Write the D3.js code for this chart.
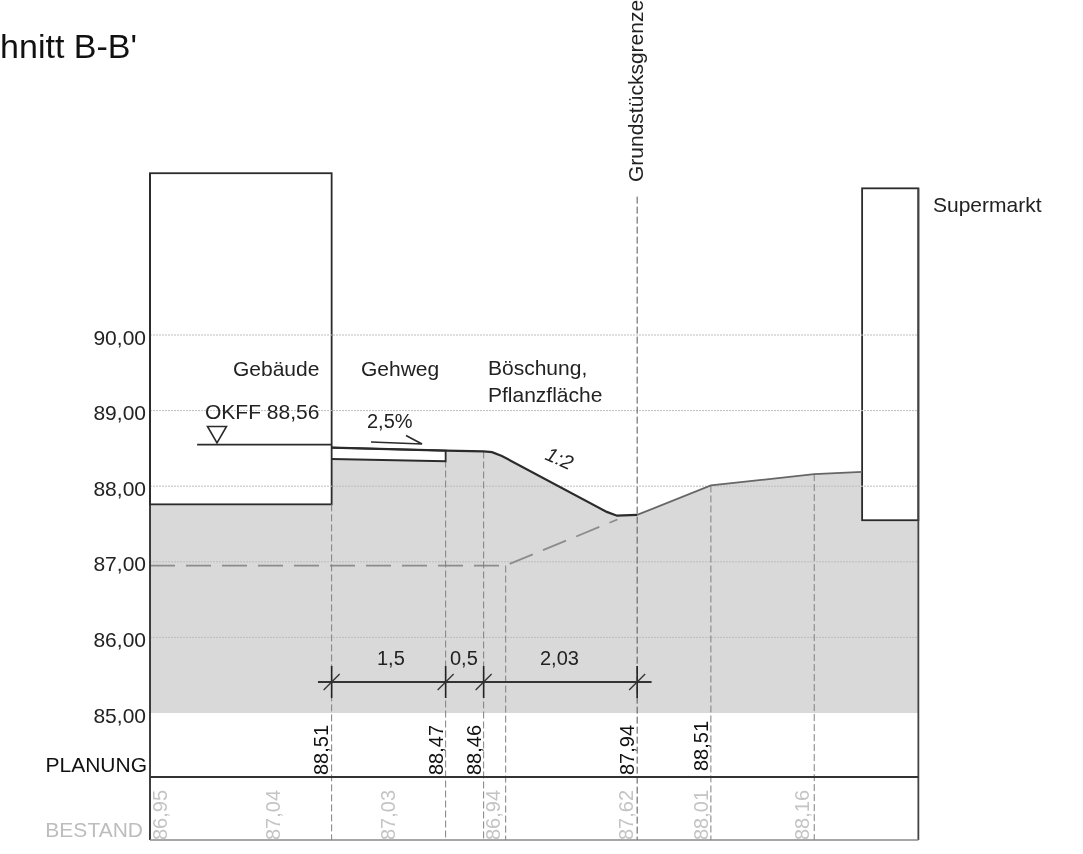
<!DOCTYPE html>
<html><head><meta charset="utf-8">
<script src="https://d3js.org/d3.v7.min.js"></script>
<style>html,body{margin:0;background:#fff;overflow:hidden}svg{display:block;filter:blur(0.45px)}text{font-family:"Liberation Sans",Arial,sans-serif}</style>
</head><body><div id="c"></div>
<script>
const W = 1083, H = 854;
// elevation axis
const yTicks = [85, 86, 87, 88, 89, 90];
// stations (metres from the left edge of the section)
const stations = [2.39, 3.89, 4.39, 4.68, 6.41, 7.38, 8.74];
const stationTops = [87.76, 88.34, 88.46, 86.95, 91.83, 88.01, 88.16];
// planned surface
const planX = [2.39, 3.89, 4.39, 4.5, 4.63, 6.01, 6.145, 6.41, 7.38, 8.74, 9.37];
const planY = [88.51, 88.47, 88.46, 88.45, 88.4, 87.66, 87.61, 87.62, 88.01, 88.16, 88.19];
// existing surface
const existX = [0, 4.68, 6.15];
const existY = [86.95, 86.95, 87.56];
// sidewalk
const walkX = [2.39, 3.89, 3.89, 2.39];
const walkY = [88.51, 88.47, 88.33, 88.36];
// buildings: x0, x1, bottom, top
const leftBuilding = [0, 2.39, 87.76, 92.14];
const rightBuilding = [9.37, 10.11, 87.55, 91.94];
// floor level
const floorX = [0.62, 2.39];
const floorY = 88.55;
// dimension chain
const dimX = [2.39, 3.89, 4.39, 6.41];
const dimExtent = [2.21, 6.6];
const dimY = 85.41;
const dimLabels = ["1,5", "0,5", "2,03"];
// bottom table
const planLabels = ["88,51", "88,47", "88,46", "87,94", "88,51"];
const planLabelX = [2.342, 3.855, 4.355, 6.368, 7.342];
const existLabels = ["86,95", "87,04", "87,03", "86,94", "87,62", "88,01", "88,16"];
const existLabelX = [0.22, 1.71, 3.22, 4.6, 6.35, 7.34, 8.67];

const x = d3.scaleLinear().domain([0, 10]).range([150, 910]);
const y = d3.scaleLinear().domain([85, 90]).range([713, 335]);
const svg = d3.select("#c").append("svg").attr("width", W).attr("height", H);
const line = d3.line().x(d => x(d[0])).y(d => y(d[1]));
const zip = (a, b) => a.map((v, i) => [v, b[i]]);
const FONT = 21, DARK = "#2b2b2b";

// ground fill
const ground = [[0, leftBuilding[2]], [2.39, leftBuilding[2]], ...zip(planX, planY), [9.37, rightBuilding[2]], [10.11, rightBuilding[2]], [10.11, 85], [0, 85]];
svg.append("path").attr("d", line(ground) + "Z").attr("fill", "#d9d9d9");

// sidewalk
svg.append("path").attr("d", line(zip(walkX, walkY)) + "Z").attr("fill", "#fff");

// buildings
for (const b of [leftBuilding, rightBuilding]) {
  svg.append("rect").attr("x", x(b[0])).attr("y", y(b[3]))
    .attr("width", x(b[1]) - x(b[0])).attr("height", y(b[2]) - y(b[3]))
    .attr("fill", "#fff").attr("stroke", DARK).attr("stroke-width", 1.8);
}

// gridlines + axis labels
const axis = d3.axisLeft(y).tickValues(yTicks).tickSize(0).tickPadding(4)
  .tickFormat(d => d3.format(".2f")(d).replace(".", ","));
const ax = svg.append("g").attr("transform", `translate(${x(0)},0)`).call(axis);
ax.select(".domain").remove();
ax.selectAll("text").attr("font-size", FONT).attr("dy", "0.43em").attr("fill", "#222").style("font-family", '"Liberation Sans",Arial,sans-serif');
svg.append("g").selectAll("line").data(yTicks.slice(1)).join("line")
  .attr("x1", x(0)).attr("x2", x(10.11)).attr("y1", d => y(d)).attr("y2", d => y(d))
  .attr("stroke", "#bdbdbd").attr("stroke-width", 1).attr("stroke-dasharray", "2 1");

// existing dashed surface
svg.append("path").attr("d", line(zip(existX, existY))).attr("fill", "none")
  .attr("stroke", "#8c8c8c").attr("stroke-width", 1.8).attr("stroke-dasharray", "25 11");

// station verticals
stations.forEach((s, i) => {
  svg.append("line").attr("x1", x(s)).attr("x2", x(s)).attr("y1", y(stationTops[i])).attr("y2", 840)
    .attr("stroke", s === 6.41 ? "#555" : "#808080").attr("stroke-width", 1).attr("stroke-dasharray", "7 3");
});

// frame of the table
const frame = svg.append("g").attr("fill", "none");
frame.append("line").attr("x1", x(0)).attr("x2", x(0)).attr("y1", y(92.14)).attr("y2", 840).attr("stroke", DARK).attr("stroke-width", 1.8);
frame.append("line").attr("x1", x(10.11)).attr("x2", x(10.11)).attr("y1", y(91.94)).attr("y2", 840).attr("stroke", "#444").attr("stroke-width", 1.8);
frame.append("line").attr("x1", x(0)).attr("x2", x(10.11)).attr("y1", 777).attr("y2", 777).attr("stroke", "#333").attr("stroke-width", 2.2);
frame.append("line").attr("x1", x(0)).attr("x2", x(10.11)).attr("y1", 840).attr("y2", 840).attr("stroke", "#8a8a8a").attr("stroke-width", 1.5);

// planned surface
svg.append("path").attr("d", line(zip(planX.slice(0, 8), planY.slice(0, 8)))).attr("fill", "none").attr("stroke", DARK).attr("stroke-width", 2.2);
svg.append("path").attr("d", line(zip(planX.slice(7), planY.slice(7)))).attr("fill", "none").attr("stroke", "#666").attr("stroke-width", 1.8);

// sidewalk outline
svg.append("path").attr("d", line(zip(walkX, walkY))).attr("fill", "none").attr("stroke", DARK).attr("stroke-width", 1.8);

// floor level & marker
svg.append("path").attr("d", line(zip(floorX, [floorY, floorY]))).attr("fill", "none").attr("stroke", DARK).attr("stroke-width", 1.8);
svg.append("path").attr("d", "M207.5,426.5H226.5L217,443Z").attr("fill", "none").attr("stroke", DARK).attr("stroke-width", 1.6);

// slope arrow
svg.append("path").attr("d", "M371,442L422,444L406,435.5").attr("fill", "none").attr("stroke", DARK).attr("stroke-width", 1.7);

// dimension chain
svg.append("line").attr("x1", x(dimExtent[0])).attr("x2", x(dimExtent[1])).attr("y1", y(dimY)).attr("y2", y(dimY)).attr("stroke", "#333").attr("stroke-width", 2.2);
dimX.forEach(d => {
  const px = x(d), py = y(dimY);
  svg.append("line").attr("x1", px).attr("x2", px).attr("y1", py - 16).attr("y2", py + 16).attr("stroke", "#222").attr("stroke-width", 1.6);
  svg.append("line").attr("x1", px - 8).attr("x2", px + 8).attr("y1", py + 8).attr("y2", py - 8).attr("stroke", "#333").attr("stroke-width", 1.3);
});
const dimTextX = [377, 450, 540];
dimLabels.forEach((t, i) => svg.append("text").attr("x", dimTextX[i]).attr("y", 665).attr("font-size", 20).attr("fill", "#222").text(t));

// annotations
const notes = [["Gebäude", 233, 376, 21], ["Gehweg", 361, 376, 21], ["Böschung,", 488, 375, 21], ["Pflanzfläche", 488, 402, 21],
  ["OKFF 88,56", 205, 419, 21], ["2,5%", 367, 428, 20], ["Supermarkt", 933, 212, 21]];
notes.forEach(n => svg.append("text").attr("x", n[1]).attr("y", n[2]).attr("font-size", n[3]).attr("fill", "#222").text(n[0]));
svg.append("text").attr("transform", "translate(544,459) rotate(24)").attr("font-size", 20).attr("font-style", "italic").attr("fill", "#222").text("1:2");
svg.append("text").attr("x", 137).attr("y", 58).attr("text-anchor", "end").attr("font-size", 34).attr("fill", "#111").text("Schnitt B-B'");
svg.append("text").attr("transform", "translate(643,182) rotate(-90)").attr("font-size", 21).attr("fill", "#222").text("Grundstücksgrenze");

// table labels
svg.append("text").attr("x", 147).attr("y", 772).attr("text-anchor", "end").attr("font-size", 21).attr("fill", "#111").text("PLANUNG");
svg.append("text").attr("x", 143).attr("y", 837).attr("text-anchor", "end").attr("font-size", 21).attr("fill", "#bdbdbd").text("BESTAND");
planLabels.forEach((t, i) => svg.append("text").attr("transform", `translate(${x(planLabelX[i])},${i === 4 ? 771 : 775}) rotate(-90)`).attr("font-size", 20).attr("fill", "#111").text(t));
existLabels.forEach((t, i) => svg.append("text").attr("transform", `translate(${x(existLabelX[i])},840) rotate(-90)`).attr("font-size", 20).attr("fill", "#c4c4c4").text(t));
</script></body></html>
